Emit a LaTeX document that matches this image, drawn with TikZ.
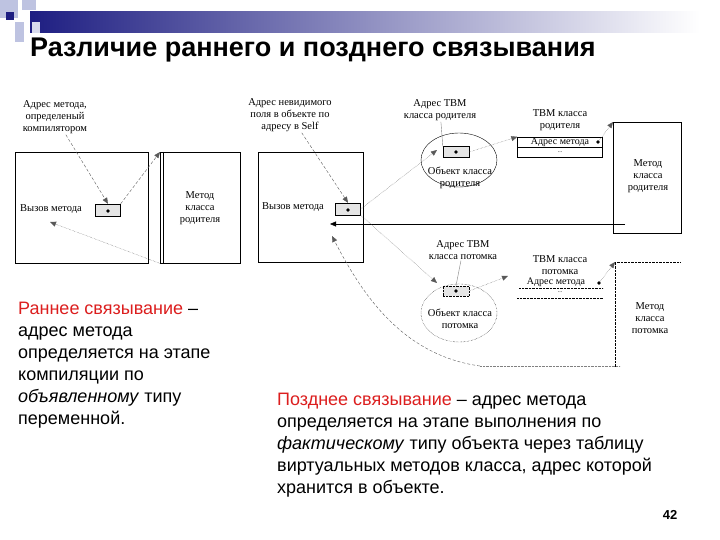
\documentclass[tikz,border=0pt]{standalone}
\usepackage{fontspec}
\setmainfont{Liberation Sans}
\newfontfamily\serifdg{Liberation Serif}
\usetikzlibrary{arrows.meta,shapes.geometric}
\definecolor{hdblue}{RGB}{30,30,130}
\definecolor{sqlight}{RGB}{190,195,225}
\definecolor{redtxt}{RGB}{220,30,30}
\begin{document}
\begin{tikzpicture}[x=1pt,y=-1pt,
  dg/.style={font=\serifdg\fontsize{10.5}{12}\selectfont,align=center,inner sep=1pt},
  bx/.style={draw,thin},
  cell/.style={draw,fill=gray!20,minimum width=25pt,minimum height=12pt,inner sep=0pt},
  dsh/.style={densely dashed,gray!70!black,-{Triangle[length=6pt,width=5pt]}},
  dot/.style={densely dotted,gray!70!black,-{Triangle[length=6pt,width=5pt]}},
  body/.style={font=\fontsize{18}{22}\selectfont,align=left,anchor=north west,inner sep=0pt}]
\useasboundingbox (0,0) rectangle (720,540);
\fill[white] (0,0) rectangle (720,540);
% header
\shade[left color=hdblue,right color=white] (30,12) rectangle (700,33);
\fill[sqlight] (0,0) rectangle (18,18);
\fill[sqlight] (22,0) rectangle (36,10);
\fill[sqlight] (15,22) rectangle (24,42);
\fill[hdblue] (6,12) rectangle (14,20);
\fill[sqlight!60] (32,22) rectangle (40,33);
\node[font=\bfseries\fontsize{27}{30}\selectfont,anchor=west,inner sep=0pt] (title) at (30,50) {Различие раннего и позднего связывания};
% early binding
\node[bx,minimum width=133pt,minimum height=111pt,anchor=north west] (b1) at (15,152) {};
\node[dg,anchor=west] (c1) at (19,209) {Вызов метода};
\node[cell] (s1) at (108,210) {};
\fill (108,211) circle (1.8);
\node[bx,minimum width=80pt,minimum height=111pt,anchor=north west] (b2) at (160,152) {};
\draw (163,152) -- (163,263);
\node[dg] (m2) at (200,208) {Метод\\класса\\родителя};
\node[dg] (t1) at (55,117) {Адрес метода,\\определеный\\компилятором};
\draw[dsh] (t1) -- (s1.north);
\draw[dsh] (s1.north east) -- (b2.north west);
\draw[dot] (b2.south west) -- (50,222);
% late binding
\node[bx,minimum width=105pt,minimum height=110pt,anchor=north west] (b3) at (258,152) {};
\node[dg,anchor=west] (c3) at (261,207) {Вызов метода};
\node[cell] (s3) at (348,209) {};
\fill (348,210) circle (1.8);
\node[dg] (t3) at (290,115) {Адрес невидимого\\поля в объекте по\\адресу в Self};
\draw[dsh] (t3) -- (s3.north);
% parent object
\node[draw,ellipse,minimum width=76pt,minimum height=54pt] (e1) at (459,160) {};
\node[cell,minimum width=26pt,minimum height=11pt] (s4) at (456,152) {};
\fill (456,152) circle (1.8);
\node[dg] (o1) at (460,178) {Объект класса\\родителя};
\node[dg] (t4) at (440,110) {Адрес ТВМ\\класса родителя};
\draw[gray] (t4) -- (s4.north west);
\draw[dot] (s3.east) -- (437,150);
% parent TVM
\node[dg] (tv1) at (560,120) {ТВМ класса\\родителя};
\node[draw,minimum width=85pt,minimum height=10pt,inner sep=0pt,font=\serifdg\fontsize{10}{10}\selectfont] (r1) at (560,142) {Адрес метода\hspace{6pt}};
\node[draw,minimum width=85pt,minimum height=10pt,inner sep=0pt,font=\serifdg\fontsize{6}{7}\selectfont] (r2) at (560,152) {...};
\fill (598,142) circle (1.8);
\draw[dot] (s4.east) -- (r1.north west);
\node[bx,minimum width=68pt,minimum height=111pt,anchor=north west] (b5) at (613,122) {};
\node[dg] (m5) at (648,176) {Метод\\класса\\родителя};
\draw[dot] (598,142) -- (b5.north west);
\draw[-{Triangle[length=6pt,width=5pt]}] (625,224) -- (330,224);
% child object
\node[draw,densely dotted,ellipse,minimum width=76pt,minimum height=58pt] (e2) at (459,313) {};
\node[cell,densely dotted,minimum width=26pt,minimum height=10pt] (s6) at (456,291) {};
\fill (456,291) circle (1.8);
\node[dg] (o2) at (460,319) {Объект класса\\потомка};
\node[dg] (t6) at (463,250) {Адрес ТВМ\\класса потомка};
\draw[gray] (t6) -- (s6.north);
\draw[dot] (s3.south east) -- (437,283);
% child TVM
\node[dg] (tv2) at (560,265) {ТВМ класса\\потомка};
\node[dg,font=\serifdg\fontsize{10}{10}\selectfont] (r3) at (556,282) {Адрес метода};
\fill (599,283) circle (1.8);
\node[dg,font=\serifdg\fontsize{6}{7}\selectfont] (r4) at (560,292) {...};
\draw[densely dotted] (519,288) -- (603,288);
\draw[densely dotted] (517,298) -- (603,298);
\draw[dot] (s6.east) -- (508,276);
\coordinate (b7) at (615,262);
\draw[densely dotted] (680,262) -- (b7) -- (615,367);
\draw[dot] (599,283) -- (b7);
\node[dg] (m7) at (650,318) {Метод\\класса\\потомка};
\draw[densely dotted,gray] (480,366) -- (620,366);
\coordinate (cb) at (480,366);
\draw[dsh] (cb) .. controls (400,355) and (360,290) .. (332,236);
% texts
\node[body] (tl) at (18,302) {{\color{redtxt}Раннее связывание} –\\адрес метода\\определяется на этапе\\компиляции по\\\textit{объявленному} типу\\переменной.};
\node[body] (tr) at (277,393) {{\color{redtxt}Позднее связывание} – адрес метода\\определяется на этапе выполнения по\\\textit{фактическому} типу объекта через таблицу\\виртуальных методов класса, адрес которой\\хранится в объекте.};
\node[font=\bfseries\fontsize{13}{15}\selectfont] (pn) at (670,515) {42};
\end{tikzpicture}
\end{document}
